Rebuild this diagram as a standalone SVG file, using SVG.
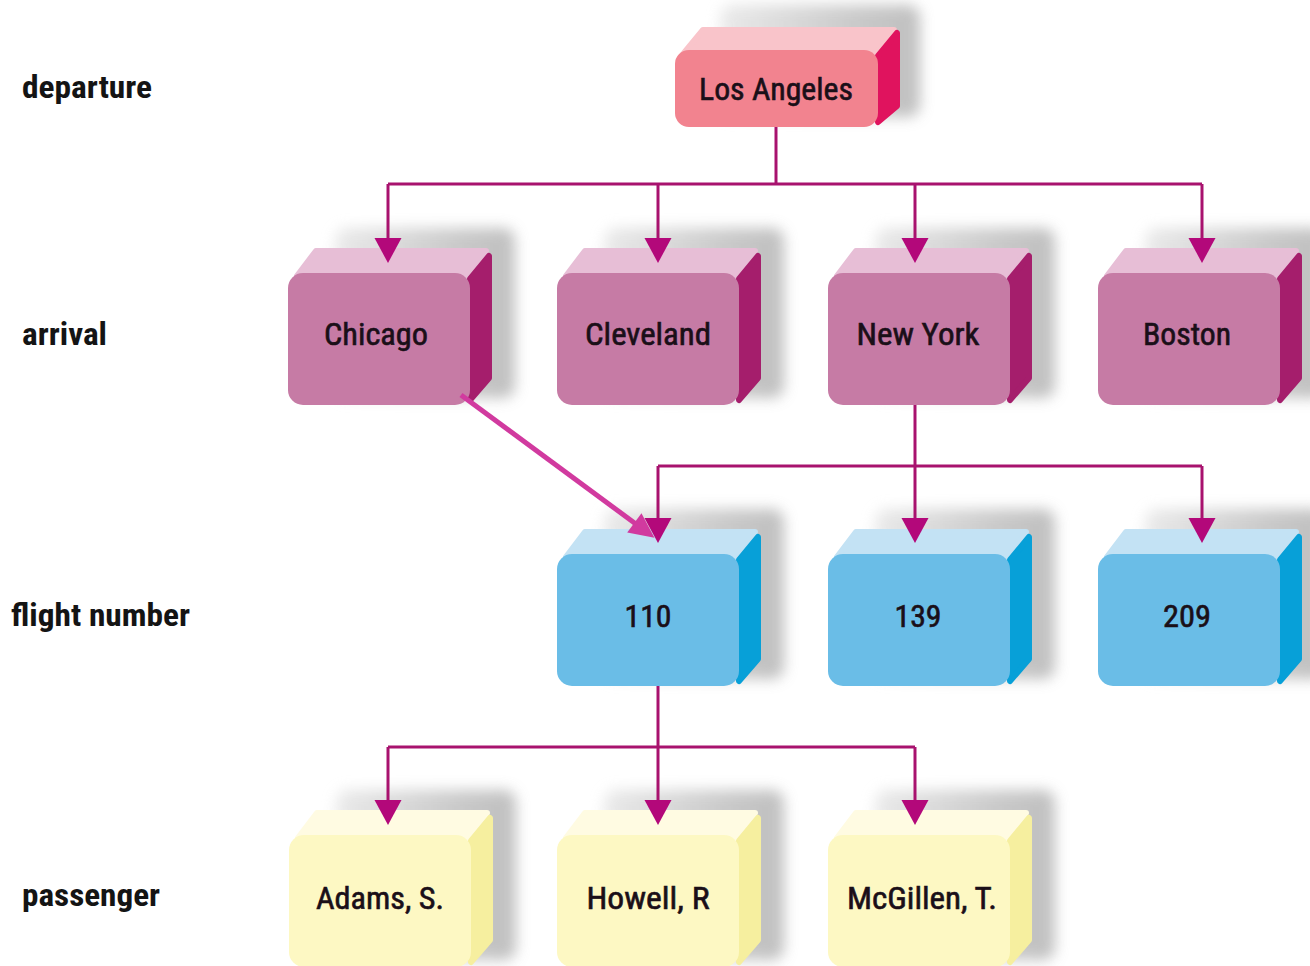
<svg xmlns="http://www.w3.org/2000/svg" width="1310" height="966" viewBox="0 0 1310 966">
  <defs>
    <filter id="soft" x="-30%" y="-30%" width="160%" height="160%">
      <feGaussianBlur stdDeviation="7"/>
    </filter>
    <linearGradient id="shadeGrad" x1="0" y1="0" x2="1" y2="0">
      <stop offset="0" stop-color="#e6e6e6"/>
      <stop offset="0.7" stop-color="#bcbcbc"/>
      <stop offset="1" stop-color="#b0b0b0"/>
    </linearGradient>
    <marker id="head" markerUnits="userSpaceOnUse" orient="auto" refX="15" refY="0" markerWidth="30" markerHeight="30" overflow="visible">
      <path d="M0,-13.5 L25,0 L0,13.5 Z" fill="#b3087a"/>
    </marker>
    <marker id="headPink" markerUnits="userSpaceOnUse" orient="auto" refX="12" refY="0" markerWidth="30" markerHeight="30" overflow="visible">
      <path d="M0,-12 L25,0 L0,12 Z" fill="#d13a9f"/>
    </marker>
  </defs>
  <style>
    .shadow { fill: url(#shadeGrad); filter: url(#soft); opacity: 0.8; }
    .top, .side { stroke-width: 6; stroke-linejoin: round; }
    .node text { font-family: "Liberation Sans Narrow", "Roboto Condensed", "DejaVu Sans Condensed", "Liberation Sans", sans-serif; font-size: 32px; fill: #1a0f18; stroke: #1a0f18; stroke-width: 0.6; text-anchor: middle; }
    .label { font-family: "Liberation Sans Narrow", "Roboto Condensed", "DejaVu Sans Condensed", "Liberation Sans", sans-serif; font-size: 31px; font-weight: bold; fill: #141414; }

    .dep .front { fill: #f2838f; }
    .dep .top { fill: #f9c4ca; stroke: #f9c4ca; }
    .dep .side { fill: #e0135e; stroke: #e0135e; }

    .arr .front { fill: #c67ba5; }
    .arr .top { fill: #e7bed6; stroke: #e7bed6; }
    .arr .side { fill: #a51e6c; stroke: #a51e6c; }

    .flt .front { fill: #6abde7; }
    .flt .top { fill: #c3e2f4; stroke: #c3e2f4; }
    .flt .side { fill: #07a0d8; stroke: #07a0d8; }

    .pas .front { fill: #fdf8c3; }
    .pas .top { fill: #fffbe2; stroke: #fffbe2; }
    .pas .side { fill: #f6ef9f; stroke: #f6ef9f; }

    .link { fill: none; stroke: #a8126e; stroke-width: 3; }
    .linkPink { fill: none; stroke: #d13a9f; stroke-width: 5; }
  </style>

  <rect width="1310" height="966" fill="#ffffff"/>

  <!-- level labels -->
  <g id="labels">
    <text class="label" x="22" y="98" textLength="130" lengthAdjust="spacingAndGlyphs">departure</text>
    <text class="label" x="22" y="345" textLength="85" lengthAdjust="spacingAndGlyphs">arrival</text>
    <text class="label" x="11" y="626" textLength="179" lengthAdjust="spacingAndGlyphs">flight number</text>
    <text class="label" x="22" y="906" textLength="138" lengthAdjust="spacingAndGlyphs">passenger</text>
  </g>

  <!-- departure city -->
  <g id="los-angeles" class="node dep" transform="translate(675,50)">
    <rect class="shadow" x="45" y="-45" width="200" height="112" rx="12"/>
    <polygon class="top" points="9,3 28,-20 219,-20 201,3"/>
    <polygon class="side" points="203,6 222,-17 222,56 203,72"/>
    <rect class="front" width="203" height="77" rx="14"/>
    <text x="101" y="50" font-size="30" textLength="154" lengthAdjust="spacingAndGlyphs">Los Angeles</text>
  </g>

  <!-- arrival cities -->
  <g id="chicago" class="node arr" transform="translate(288,273)">
    <rect class="shadow" x="47" y="-45" width="180" height="170" rx="12"/>
    <polygon class="top" points="9,3 28,-22 198,-22 180,3"/>
    <polygon class="side" points="182,6 201,-17 201,105 182,127"/>
    <rect class="front" width="182" height="132" rx="15"/>
    <text x="88" y="72" textLength="104" lengthAdjust="spacingAndGlyphs">Chicago</text>
  </g>
  <g id="cleveland" class="node arr" transform="translate(557,273)">
    <rect class="shadow" x="47" y="-45" width="180" height="170" rx="12"/>
    <polygon class="top" points="9,3 28,-22 198,-22 180,3"/>
    <polygon class="side" points="182,6 201,-17 201,105 182,127"/>
    <rect class="front" width="182" height="132" rx="15"/>
    <text x="91" y="72" textLength="126" lengthAdjust="spacingAndGlyphs">Cleveland</text>
  </g>
  <g id="new-york" class="node arr" transform="translate(828,273)">
    <rect class="shadow" x="47" y="-45" width="180" height="170" rx="12"/>
    <polygon class="top" points="9,3 28,-22 198,-22 180,3"/>
    <polygon class="side" points="182,6 201,-17 201,105 182,127"/>
    <rect class="front" width="182" height="132" rx="15"/>
    <text x="90" y="72" textLength="123" lengthAdjust="spacingAndGlyphs">New York</text>
  </g>
  <g id="boston" class="node arr" transform="translate(1098,273)">
    <rect class="shadow" x="47" y="-45" width="180" height="170" rx="12"/>
    <polygon class="top" points="9,3 28,-22 198,-22 180,3"/>
    <polygon class="side" points="182,6 201,-17 201,105 182,127"/>
    <rect class="front" width="182" height="132" rx="15"/>
    <text x="89" y="72" textLength="88" lengthAdjust="spacingAndGlyphs">Boston</text>
  </g>

  <!-- flight numbers -->
  <g id="flight-110" class="node flt" transform="translate(557,554)">
    <rect class="shadow" x="47" y="-45" width="180" height="170" rx="12"/>
    <polygon class="top" points="9,3 28,-22 198,-22 180,3"/>
    <polygon class="side" points="182,6 201,-17 201,105 182,127"/>
    <rect class="front" width="182" height="132" rx="15"/>
    <text x="91" y="73" textLength="47" lengthAdjust="spacingAndGlyphs">110</text>
  </g>
  <g id="flight-139" class="node flt" transform="translate(828,554)">
    <rect class="shadow" x="47" y="-45" width="180" height="170" rx="12"/>
    <polygon class="top" points="9,3 28,-22 198,-22 180,3"/>
    <polygon class="side" points="182,6 201,-17 201,105 182,127"/>
    <rect class="front" width="182" height="132" rx="15"/>
    <text x="90" y="73" textLength="47" lengthAdjust="spacingAndGlyphs">139</text>
  </g>
  <g id="flight-209" class="node flt" transform="translate(1098,554)">
    <rect class="shadow" x="47" y="-45" width="180" height="170" rx="12"/>
    <polygon class="top" points="9,3 28,-22 198,-22 180,3"/>
    <polygon class="side" points="182,6 201,-17 201,105 182,127"/>
    <rect class="front" width="182" height="132" rx="15"/>
    <text x="89" y="73" textLength="48" lengthAdjust="spacingAndGlyphs">209</text>
  </g>

  <!-- passengers -->
  <g id="adams" class="node pas" transform="translate(289,835)">
    <rect class="shadow" x="47" y="-45" width="180" height="170" rx="12"/>
    <polygon class="top" points="9,3 28,-22 198,-22 180,3"/>
    <polygon class="side" points="182,6 201,-17 201,105 182,127"/>
    <rect class="front" width="182" height="132" rx="15"/>
    <text x="91" y="74" textLength="128" lengthAdjust="spacingAndGlyphs">Adams, S.</text>
  </g>
  <g id="howell" class="node pas" transform="translate(557,835)">
    <rect class="shadow" x="47" y="-45" width="180" height="170" rx="12"/>
    <polygon class="top" points="9,3 28,-22 198,-22 180,3"/>
    <polygon class="side" points="182,6 201,-17 201,105 182,127"/>
    <rect class="front" width="182" height="132" rx="15"/>
    <text x="91" y="74" textLength="123" lengthAdjust="spacingAndGlyphs">Howell, R</text>
  </g>
  <g id="mcgillen" class="node pas" transform="translate(828,835)">
    <rect class="shadow" x="47" y="-45" width="180" height="170" rx="12"/>
    <polygon class="top" points="9,3 28,-22 198,-22 180,3"/>
    <polygon class="side" points="182,6 201,-17 201,105 182,127"/>
    <rect class="front" width="182" height="132" rx="15"/>
    <text x="94" y="74" textLength="150" lengthAdjust="spacingAndGlyphs">McGillen, T.</text>
  </g>

  <!-- connectors -->
  <g id="connectors">
    <!-- Los Angeles to arrival cities -->
    <path class="link" d="M776,127 V184"/>
    <path class="link" d="M388,184 H1202"/>
    <path class="link" d="M388,184 V253" marker-end="url(#head)"/>
    <path class="link" d="M658,184 V253" marker-end="url(#head)"/>
    <path class="link" d="M915,184 V253" marker-end="url(#head)"/>
    <path class="link" d="M1202,184 V253" marker-end="url(#head)"/>
    <!-- New York to flights -->
    <path class="link" d="M915,405 V466"/>
    <path class="link" d="M658,466 H1202"/>
    <path class="link" d="M658,466 V533" marker-end="url(#head)"/>
    <path class="link" d="M915,466 V533" marker-end="url(#head)"/>
    <path class="link" d="M1202,466 V533" marker-end="url(#head)"/>
    <!-- flight 110 to passengers -->
    <path class="link" d="M658,686 V747"/>
    <path class="link" d="M388,747 H915"/>
    <path class="link" d="M388,747 V815" marker-end="url(#head)"/>
    <path class="link" d="M658,747 V815" marker-end="url(#head)"/>
    <path class="link" d="M915,747 V815" marker-end="url(#head)"/>
    <!-- Chicago to flight 110 -->
    <path class="linkPink" d="M461,395 L644,530" marker-end="url(#headPink)"/>
  </g>
</svg>
